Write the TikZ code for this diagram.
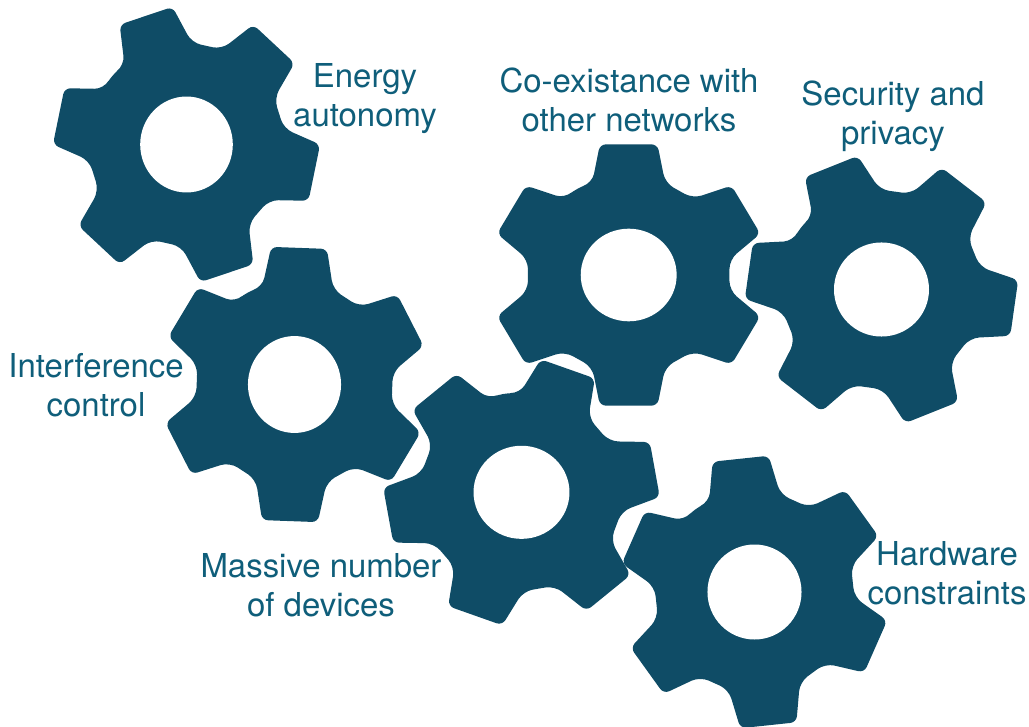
\documentclass[tikz,border=0pt]{standalone}
\usepackage{fontspec}
\setmainfont{TeX Gyre Heros}
\definecolor{gearblue}{HTML}{0F4C66}
\definecolor{gtext}{HTML}{0F5E7A}
\tikzset{x=0.75pt,y=-0.75pt,
 gearbody/.style={fill=gearblue},
 holecut/.style={fill=white},
 lab/.style={text=gtext,font=\fontsize{24.7}{29.3}\selectfont,align=center,inner sep=0pt}}
\newcommand{\tooth}[1]{%
 [rounded corners=7pt] -- ({#1+21}:101)
 [rounded corners=4.5pt] -- ({#1+12}:137) -- ({#1-12}:137)
 [rounded corners=7pt] -- ({#1-21}:101)}
\newcommand{\gearshape}[5]{%
 \begin{scope}[shift={(#1,#2)},y=0.75pt,xscale=#4,yscale=#5]
 \fill[gearbody] ({#3+30}:103)
  \tooth{#3} \tooth{#3-60} \tooth{#3-120} \tooth{#3-180} \tooth{#3-240} \tooth{#3-300} -- cycle;
 \fill[holecut] (0,0) circle (47.5);
 \end{scope}}
\begin{document}
\begin{tikzpicture}
\useasboundingbox (0,0) rectangle (1029,727);
\gearshape{186.5}{144.5}{108}{0.975}{1.01}
\gearshape{294.5}{384.5}{88}{0.98}{1.02}
\gearshape{628.7}{275}{90}{1.01}{0.975}
\gearshape{881.5}{289.5}{112}{1}{0.99}
\gearshape{521.5}{492.3}{70}{1.01}{0.98}
\gearshape{754.5}{592}{96}{0.99}{1}
\node[lab] (t1) at (365,99) {Energy\\autonomy};
\node[lab] (t2) at (629,100) {Co-existance with\\other networks};
\node[lab] (t3) at (893,116) {Security and\\privacy};
\node[lab] (t4) at (96,385) {Interference\\control};
\node[lab] (t5) at (321,585) {Massive number\\of devices};
\node[lab] (t6) at (947,573) {Hardware\\constraints};
\end{tikzpicture}
\end{document}
